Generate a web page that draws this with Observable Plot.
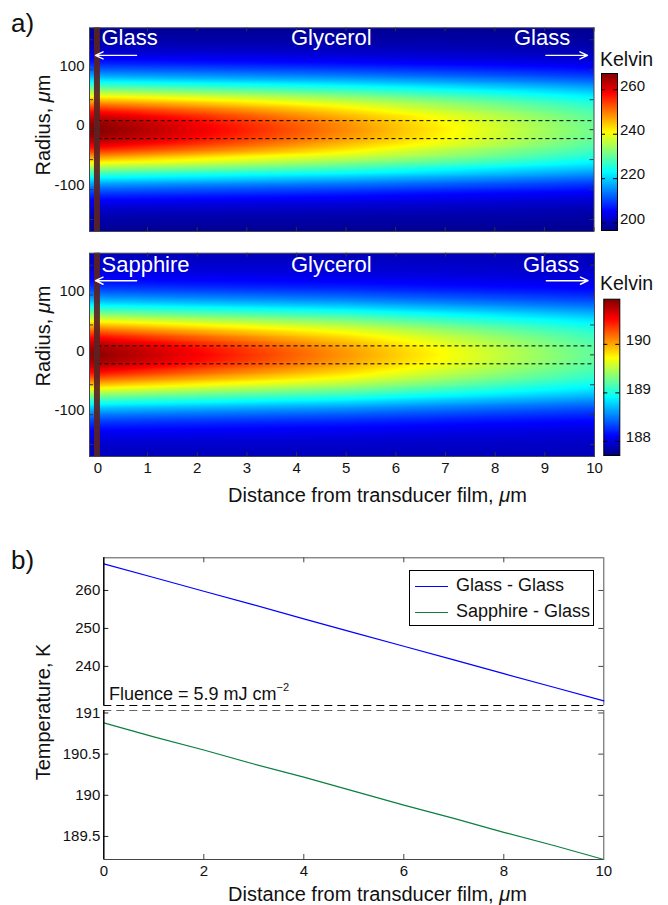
<!DOCTYPE html>
<html><head><meta charset="utf-8">
<script src="https://cdn.jsdelivr.net/npm/d3@7"></script>
<script src="https://cdn.jsdelivr.net/npm/@observablehq/plot@0.6"></script>
<style>
body{margin:0;background:#fff;}
#fig{position:relative;width:668px;height:905px;overflow:hidden;font-family:"Liberation Sans",Arial,Helvetica,sans-serif;color:#111;}
#fig svg{position:absolute;}
.t{position:absolute;white-space:nowrap;line-height:1;}
.rot{position:absolute;white-space:nowrap;line-height:1;transform:translate(-50%,-50%) rotate(-90deg);}
.w{color:#fff;font-size:22px;}
</style></head><body><div id="fig"></div>
<script>
// ---------- data ----------
const distance = [0, 1, 2, 3, 4, 5, 6, 7, 8, 9, 10];
const glassGlass = [267.0, 263.4, 259.8, 256.2, 252.5, 248.9, 245.3, 241.7, 238.1, 234.5, 230.9];
const sapphireGlass = [190.88, 190.71, 190.55, 190.38, 190.22, 190.05, 189.88, 189.72, 189.55, 189.39, 189.22];

// radial temperature profiles (fraction of centre rise) at three distances
const profileDistance = [0, 5, 10];
const radialOffset = [0, 10, 20, 30, 40, 50, 60, 70, 80, 90, 100, 110, 120, 130, 140, 150, 160, 170];
const shapeAt0  = [1.00, 0.984, 0.94, 0.87, 0.78, 0.68, 0.57, 0.465, 0.37, 0.28, 0.21, 0.15, 0.105, 0.07, 0.047, 0.03, 0.018, 0.011];
const shapeAt5  = [1.00, 0.988, 0.952, 0.897, 0.825, 0.735, 0.635, 0.53, 0.42, 0.32, 0.24, 0.17, 0.12, 0.083, 0.056, 0.037, 0.024, 0.015];
const shapeAt10 = [1.00, 0.99, 0.965, 0.925, 0.87, 0.79, 0.70, 0.59, 0.47, 0.36, 0.27, 0.19, 0.135, 0.095, 0.065, 0.045, 0.03, 0.02];
const edgeGG = 197.5, edgeSG = 187.87;

const colorDomainGG = [196.7, 267.3];
const colorDomainSG = [187.71, 190.93];
const colorTicksGG = [200, 220, 240, 260];
const colorTicksSG = [188, 189, 190];
const radiusDomain = [-170, 170];
const radiusTicks = [-150, -100, -50, 0, 50, 100, 150];
const radiusLabels = [-100, 0, 100];
const distanceDomainA = [-0.17, 10];
const distanceTicksA = [0, 1, 2, 3, 4, 5, 6, 7, 8, 9, 10];
const probeRadius = [-15, 15];
const filmExtent = [-0.07, 0.05];
const arrowRadius = 124;
const arrowsA = [{x1: 0.78, x2: -0.05}, {x1: 9.03, x2: 9.87}];

const upperDomain = [229.7, 268.6];
const lowerDomain = [189.22, 191.03];
const upperTicks = [240, 250, 260];
const lowerTicks = [189.5, 190, 190.5, 191];
const distanceTicksB = [0, 2, 4, 6, 8, 10];
const innerTicksB = [2, 4, 6, 8];

// ---------- helpers ----------
const FONT = '"Liberation Sans", Arial, Helvetica, sans-serif';
const clamp01 = v => Math.max(0, Math.min(1, v));
const jet = t => {
  const r = clamp01(Math.min(4 * t - 1.5, -4 * t + 4.5));
  const g = clamp01(Math.min(4 * t - 0.5, -4 * t + 3.5));
  const b = clamp01(Math.min(4 * t + 0.5, -4 * t + 2.5));
  return `rgb(${Math.round(r * 255)},${Math.round(g * 255)},${Math.round(b * 255)})`;
};
const fig = document.getElementById("fig");
function place(svg, left, top) { svg.style.left = left + "px"; svg.style.top = top + "px"; fig.appendChild(svg); }
function label(html, cls, left, top, extra = "") {
  const d = document.createElement("div");
  d.className = cls; d.innerHTML = html;
  d.style.cssText += `left:${left}px;top:${top}px;${extra}`;
  fig.appendChild(d);
}
const baseStyle = {background: "transparent", fontFamily: FONT, fontSize: "15px", color: "#111", overflow: "visible"};

function fieldSamples(center, edge) {
  const shapes = [shapeAt0, shapeAt5, shapeAt10];
  const cols = [{x: distanceDomainA[0], i: 0}, ...profileDistance.map((d, i) => ({x: d, i}))];
  const out = [];
  for (const {x, i} of cols) {
    const tc = center[distance.indexOf(profileDistance[i])];
    radialOffset.forEach((r, k) => {
      const t = edge + (tc - edge) * shapes[i][k];
      out.push({x, y: r, t});
      if (r > 0) out.push({x, y: -r, t});
    });
  }
  return out;
}

function heatmap({center, edge, colorDomain, width, height, mt, mb, ml, mr, showX}) {
  const fw = width - ml - mr, fh = height - mt - mb;
  const marks = [
    Plot.raster(fieldSamples(center, edge), {x: "x", y: "y", fill: "t", interpolate: "barycentric",
      x1: distanceDomainA[0], x2: distanceDomainA[1], y1: radiusDomain[0], y2: radiusDomain[1]}),
    Plot.ruleY(probeRadius, {x1: 0, x2: 10, stroke: "#000", strokeWidth: 1, strokeDasharray: "4,3"}),
    Plot.rect([filmExtent], {x1: d => d[0], x2: d => d[1], y1: radiusDomain[0], y2: radiusDomain[1], fill: "#5a2222", fillOpacity: 0.93}),
    Plot.arrow(arrowsA, {x1: "x1", x2: "x2", y1: arrowRadius, y2: arrowRadius, stroke: "#fff", strokeWidth: 1.4, headLength: 9, headAngle: 50}),
    Plot.tickX(distanceTicksA, {insetBottom: fh - 4, stroke: "#333"}),
    Plot.tickX(distanceTicksA, {insetTop: fh - 4, stroke: "#333"}),
    Plot.tickY(radiusTicks, {insetRight: fw - 4, stroke: "#333"}),
    Plot.tickY(radiusTicks, {insetLeft: fw - 4, stroke: "#333"}),
    Plot.frame({stroke: "#445"}),
    Plot.axisY({ticks: radiusLabels, tickSize: 0, tickPadding: 5, dy: -4, label: null, tickFormat: d => String(d), anchor: "left"})
  ];
  if (showX) marks.push(Plot.axisX({ticks: distanceTicksA, tickSize: 0, tickPadding: 6, label: null, tickFormat: d => String(d), anchor: "bottom"}));
  return Plot.plot({
    width, height, marginTop: mt, marginBottom: mb, marginLeft: ml, marginRight: mr, style: baseStyle,
    x: {domain: distanceDomainA, axis: showX ? undefined : null},
    y: {domain: radiusDomain},
    color: {type: "linear", domain: colorDomain, interpolate: jet, clamp: true},
    marks
  });
}

function colorbar({domain, ticks, width, height, mt, mb, ml, mr, pad}) {
  const fw = width - ml - mr;
  return Plot.plot({
    width, height, marginTop: mt, marginBottom: mb, marginLeft: ml, marginRight: mr, style: baseStyle,
    x: {domain: [0, 1], axis: null},
    y: {domain},
    color: {type: "linear", domain, interpolate: jet, clamp: true},
    marks: [
      Plot.raster({fill: (x, y) => y, x1: 0, x2: 1, y1: domain[0], y2: domain[1]}),
      Plot.tickY(ticks, {insetRight: fw - 4, stroke: "#000"}),
      Plot.tickY(ticks, {insetLeft: fw - 4, stroke: "#000"}),
      Plot.frame({stroke: "#000"}),
      Plot.axisY({anchor: "right", ticks, tickSize: 0, tickPadding: pad, dy: -4, label: null, tickFormat: d => String(d)})
    ]
  });
}

// ---------- panel a ----------
place(heatmap({center: glassGlass, edge: edgeGG, colorDomain: colorDomainGG, width: 600, height: 240, mt: 27.3, mb: 9, ml: 89, mr: 6.5, showX: false}), 0, 0);
place(heatmap({center: sapphireGlass, edge: edgeSG, colorDomain: colorDomainSG, width: 600, height: 245, mt: 12.7, mb: 29, ml: 89, mr: 6, showX: true}), 0, 240);
place(colorbar({domain: colorDomainGG, ticks: colorTicksGG, width: 78, height: 175, mt: 8, mb: 10, ml: 11, mr: 51, pad: 2.5}), 590, 65);
place(colorbar({domain: colorDomainSG, ticks: colorTicksSG, width: 78, height: 175, mt: 8.7, mb: 10, ml: 13.3, mr: 48.7, pad: 6}), 590, 290);

// ---------- panel b ----------
const ggRows = distance.map((d, i) => ({d, t: glassGlass[i]}));
const sgRows = distance.map((d, i) => ({d, t: sapphireGlass[i]}));
{
  const width = 620, height = 165, mt = 12.3, mb = 5, ml = 103.3, mr = 16.7;
  const fw = width - ml - mr, fh = height - mt - mb;
  place(Plot.plot({
    width, height, marginTop: mt, marginBottom: mb, marginLeft: ml, marginRight: mr, style: baseStyle,
    x: {domain: [0, 10], axis: null}, y: {domain: upperDomain},
    marks: [
      Plot.ruleY([upperDomain[1]], {stroke: "#555"}),
      Plot.ruleX([10], {stroke: "#555"}),
      Plot.tickY(upperTicks, {insetRight: fw - 5, stroke: "#222"}),
      Plot.tickY(upperTicks, {insetLeft: fw - 5, stroke: "#444"}),
      Plot.tickX(innerTicksB, {insetBottom: fh - 5, stroke: "#444"}),
      Plot.line(ggRows, {x: "d", y: "t", stroke: "#0000ff", strokeWidth: 1.2}),
      Plot.ruleY([upperDomain[0]], {stroke: "#000", strokeDasharray: "8,5", strokeWidth: 1.2}),
      Plot.ruleX([0], {stroke: "#000", strokeWidth: 1.5}),
      Plot.axisY({ticks: upperTicks, tickSize: 0, tickPadding: 3.5, label: null, tickFormat: d => String(d), anchor: "left"})
    ]
  }), 0, 545);
}
{
  const width = 620, height = 190, mt = 5, mb = 36, ml = 103.3, mr = 16.7;
  const fw = width - ml - mr, fh = height - mt - mb;
  place(Plot.plot({
    width, height, marginTop: mt, marginBottom: mb, marginLeft: ml, marginRight: mr, style: baseStyle,
    x: {domain: [0, 10]}, y: {domain: lowerDomain},
    marks: [
      Plot.ruleY([lowerDomain[1]], {stroke: "#666", strokeDasharray: "8,5", strokeWidth: 1.2}),
      Plot.ruleY([lowerDomain[0]], {stroke: "#444"}),
      Plot.ruleX([10], {stroke: "#555"}),
      Plot.tickY(lowerTicks, {insetRight: fw - 5, stroke: "#222"}),
      Plot.tickY(lowerTicks, {insetLeft: fw - 5, stroke: "#444"}),
      Plot.tickX(innerTicksB, {insetTop: fh - 5, stroke: "#444"}),
      Plot.line(sgRows, {x: "d", y: "t", stroke: "#0b7f3f", strokeWidth: 1.2}),
      Plot.ruleX([0], {stroke: "#000", strokeWidth: 1.5}),
      Plot.axisY({ticks: lowerTicks, tickSize: 0, tickPadding: 3.5, label: null, tickFormat: d => String(d), anchor: "left"}),
      Plot.axisX({ticks: distanceTicksB, tickSize: 0, tickPadding: 5.5, label: null, tickFormat: d => String(d), anchor: "bottom"})
    ]
  }), 0, 705);
}

// ---------- text ----------
label("a)", "t", 11, 9.5, "font-size:26px;");
label("b)", "t", 11, 547, "font-size:26px;");
label("Radius, <i>μ</i>m", "rot", 43, 125, "font-size:20px;");
label("Radius, <i>μ</i>m", "rot", 43, 336, "font-size:20px;");
label("Temperature, K", "rot", 43, 712, "font-size:20px;");
label("Distance from transducer film, <i>μ</i>m", "t", 228, 484.5, "font-size:20px;");
label("Distance from transducer film, <i>μ</i>m", "t", 228, 883.8, "font-size:20px;");
label("Kelvin", "t", 600, 49.5, "font-size:19.5px;");
label("Kelvin", "t", 600, 273.5, "font-size:19.5px;");
label("Glass", "t w", 101.5, 27.1);
label("Glycerol", "t w", 291, 27.1);
label("Glass", "t w", 514, 27.1);
label("Sapphire", "t w", 101.5, 253.7);
label("Glycerol", "t w", 291, 253.7);
label("Glass", "t w", 523, 253.5);
label('Fluence = 5.9 mJ cm<span style="font-size:11px;position:relative;top:-9px;">−2</span>', "t", 109, 684.8, "font-size:18px;");

// legend
const legend = document.createElement("div");
legend.style.cssText = "position:absolute;left:409px;top:570px;width:183px;height:54px;border:1.5px solid #000;background:#fff;";
fig.appendChild(legend);
[["Glass - Glass", "#0000ff", 591], ["Sapphire - Glass", "#0b7f3f", 616.7]].forEach(([txt, col, base]) => {
  const ln = document.createElement("div");
  ln.style.cssText = `position:absolute;left:415px;top:${base - 4.8}px;width:33px;height:0;border-top:1.2px solid ${col};`;
  fig.appendChild(ln);
  label(txt, "t", 456, base - 15.2, "font-size:18px;");
});
</script></body></html>
